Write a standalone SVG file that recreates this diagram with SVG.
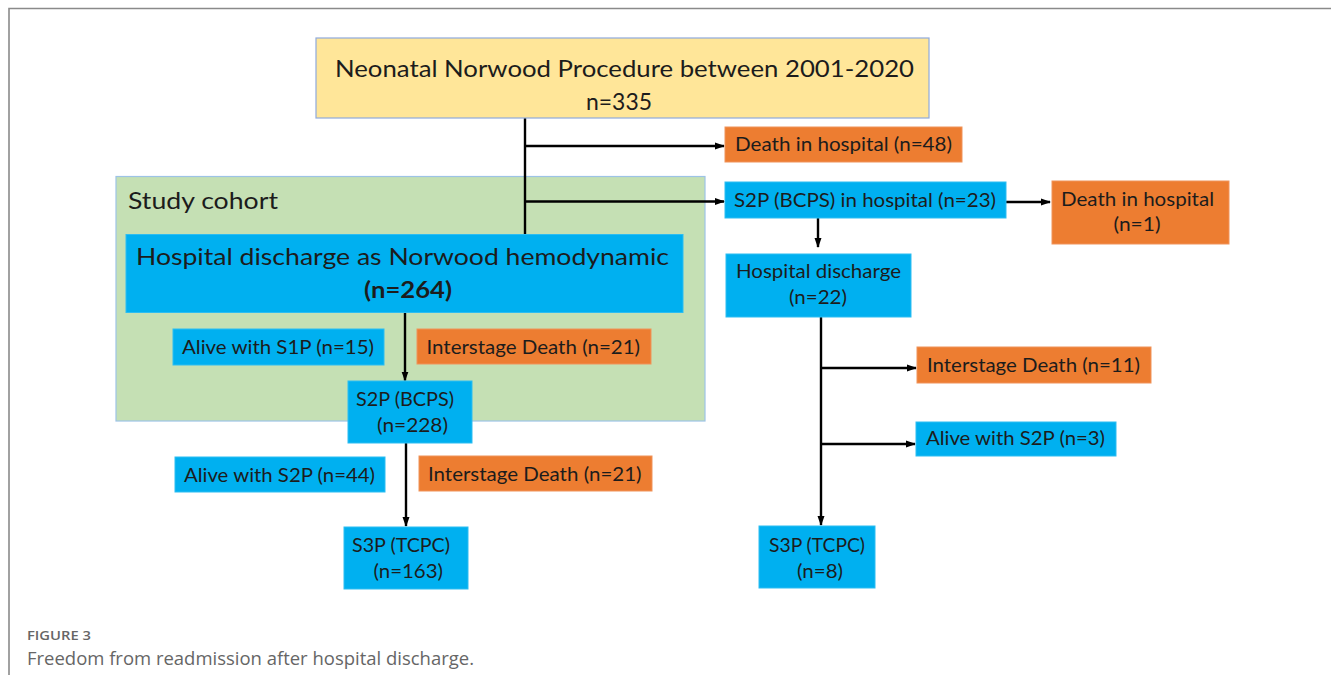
<svg xmlns="http://www.w3.org/2000/svg" width="1331" height="675" viewBox="0 0 1331 675">
<style>
.t{font-family:Lato,"Liberation Sans",sans-serif;fill:#1c1c1c;}
.s{font-size:19px;}
.l{font-size:23px;}
.blue{fill:#00B0F0;stroke:#2CBDF2;stroke-width:1;}
.org{fill:#ED7D31;stroke:#F0935A;stroke-width:1;}
.cap{font-family:"Open Sans",Lato,sans-serif;fill:#666;}
.c{stroke:#000;stroke-width:2.4;fill:none;}
.a{marker-end:url(#ah);}
</style>
<defs>
<marker id="ah" markerUnits="userSpaceOnUse" markerWidth="10" markerHeight="8" refX="9" refY="4" orient="auto">
<path d="M0,0.5 L10,4 L0,7.5 Z" fill="#000"/>
</marker>
</defs>
<rect width="1331" height="675" fill="#fff"/>
<path d="M9,675 V8.5 H1331" fill="none" stroke="#8a8a8a" stroke-width="1.6"/>

<g id="cohort">
<rect x="116" y="176.5" width="589" height="244.5" fill="#C5E0B4" stroke="#9DC3E6" stroke-width="1.2"/>
<text class="t l" x="128" y="209" textLength="150" lengthAdjust="spacingAndGlyphs">Study cohort</text>
</g>

<g id="connectors">
<line class="c" x1="525" y1="118" x2="525" y2="234.5"/>
<line class="c a" x1="525" y1="146" x2="724" y2="146"/>
<line class="c a" x1="525" y1="201.5" x2="724" y2="201.5"/>
<line class="c a" x1="1006" y1="202" x2="1050" y2="202"/>
<line class="c a" x1="818" y1="218" x2="818" y2="247"/>
<line class="c a" x1="821" y1="317" x2="821" y2="525"/>
<line class="c a" x1="821" y1="368" x2="916" y2="368"/>
<line class="c a" x1="821" y1="444" x2="915" y2="444"/>
<line class="c a" x1="405" y1="312" x2="405" y2="380.5"/>
<line class="c a" x1="406" y1="443" x2="406" y2="526"/>
</g>

<g id="n-start">
<rect x="316" y="38" width="613" height="80" fill="#FFE699" stroke="#8FAADC" stroke-width="1.2"/>
<text class="t l" x="335" y="77" textLength="579" lengthAdjust="spacingAndGlyphs">Neonatal Norwood Procedure between 2001-2020</text>
<text class="t l" x="586" y="110" textLength="66" lengthAdjust="spacingAndGlyphs">n=335</text>
</g>

<g id="n-death48">
<rect class="org" x="725" y="127" width="237" height="35"/>
<text class="t s" x="735" y="151" textLength="217" lengthAdjust="spacingAndGlyphs">Death in hospital (n=48)</text>
</g>

<g id="n-s2p-hosp">
<rect class="blue" x="725" y="182" width="281" height="36"/>
<text class="t s" x="734" y="207" textLength="262" lengthAdjust="spacingAndGlyphs">S2P (BCPS) in hospital (n=23)</text>
</g>

<g id="n-death1">
<rect class="org" x="1052" y="181" width="177" height="63"/>
<text class="t s" x="1061" y="206" textLength="153" lengthAdjust="spacingAndGlyphs">Death in hospital</text>
<text class="t s" x="1113.5" y="231" textLength="47" lengthAdjust="spacingAndGlyphs">(n=1)</text>
</g>

<g id="n-discharge22">
<rect class="blue" x="726" y="254" width="185" height="63"/>
<text class="t s" x="736" y="278" textLength="165" lengthAdjust="spacingAndGlyphs">Hospital discharge</text>
<text class="t s" x="789" y="304" textLength="58" lengthAdjust="spacingAndGlyphs">(n=22)</text>
</g>

<g id="n-death11">
<rect class="org" x="917" y="347" width="234" height="36"/>
<text class="t s" x="927" y="372" textLength="213" lengthAdjust="spacingAndGlyphs">Interstage Death (n=11)</text>
</g>

<g id="n-alive3">
<rect class="blue" x="916" y="422" width="200" height="34"/>
<text class="t s" x="926" y="445" textLength="179" lengthAdjust="spacingAndGlyphs">Alive with S2P (n=3)</text>
</g>

<g id="n-s3p8">
<rect class="blue" x="759" y="526" width="116" height="62"/>
<text class="t s" x="769" y="552" textLength="96" lengthAdjust="spacingAndGlyphs">S3P (TCPC)</text>
<text class="t s" x="797" y="578" textLength="46" lengthAdjust="spacingAndGlyphs">(n=8)</text>
</g>

<g id="n-discharge264">
<rect class="blue" x="126" y="234.5" width="557" height="78"/>
<text class="t l" x="136" y="265" textLength="533" lengthAdjust="spacingAndGlyphs">Hospital discharge as Norwood hemodynamic</text>
<text class="t l" x="364" y="298" font-weight="bold" textLength="88" lengthAdjust="spacingAndGlyphs">(n=264)</text>
</g>

<g id="n-alive15">
<rect class="blue" x="173" y="329" width="211" height="36"/>
<text class="t s" x="182" y="354" textLength="192" lengthAdjust="spacingAndGlyphs">Alive with S1P (n=15)</text>
</g>

<g id="n-death21a">
<rect class="org" x="417" y="329" width="234" height="35"/>
<text class="t s" x="426.5" y="354" textLength="213.5" lengthAdjust="spacingAndGlyphs">Interstage Death (n=21)</text>
</g>

<g id="n-s2p228">
<rect class="blue" x="348" y="381" width="124" height="62"/>
<text class="t s" x="356" y="406" textLength="98" lengthAdjust="spacingAndGlyphs">S2P (BCPS)</text>
<text class="t s" x="377" y="432" textLength="71" lengthAdjust="spacingAndGlyphs">(n=228)</text>
</g>

<g id="n-alive44">
<rect class="blue" x="175" y="457" width="210" height="35"/>
<text class="t s" x="184" y="482" textLength="191" lengthAdjust="spacingAndGlyphs">Alive with S2P (n=44)</text>
</g>

<g id="n-death21b">
<rect class="org" x="419" y="456" width="233" height="35"/>
<text class="t s" x="428" y="481" textLength="213.5" lengthAdjust="spacingAndGlyphs">Interstage Death (n=21)</text>
</g>

<g id="n-s3p163">
<rect class="blue" x="344" y="527" width="124" height="62"/>
<text class="t s" x="352" y="552" textLength="98" lengthAdjust="spacingAndGlyphs">S3P (TCPC)</text>
<text class="t s" x="373.5" y="578" textLength="69.5" lengthAdjust="spacingAndGlyphs">(n=163)</text>
</g>

<g id="caption">
<text class="cap" x="27" y="640" font-size="12.5" font-weight="600" textLength="64" lengthAdjust="spacingAndGlyphs">FIGURE 3</text>
<text class="cap" x="27" y="665" font-size="18" textLength="447" lengthAdjust="spacingAndGlyphs">Freedom from readmission after hospital discharge.</text>
</g>
</svg>
